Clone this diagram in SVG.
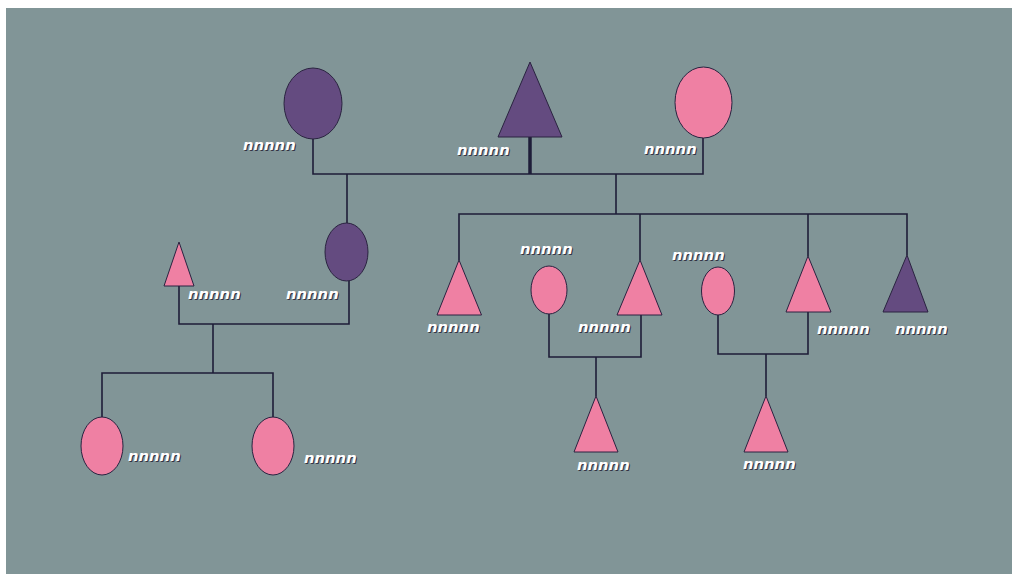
<svg xmlns="http://www.w3.org/2000/svg" width="1012" height="574" viewBox="0 0 1012 574">
<defs>
<style>
.bg{fill:#819597}
.purple{fill:#644B80;stroke:#2A2340;stroke-width:1}
.pink{fill:#EF80A3;stroke:#2A2340;stroke-width:1}
.ln{fill:none;stroke:#1E1D38;stroke-width:1.6}
.lbl{font-family:"DejaVu Sans",sans-serif;font-weight:bold;font-style:italic;font-size:14.8px;fill:#FFFFFF;}
.sh{font-family:"DejaVu Sans",sans-serif;font-weight:bold;font-style:italic;font-size:14.8px;fill:#333344;}
</style>
</defs>
<rect width="1012" height="574" fill="#FFFFFF"/>
<rect class="bg" x="6" y="8" width="1006" height="566"/>
<g id="connectors">
<polyline class="ln" points="313,139 313,174 703,174 703,138"/>
<line x1="530" y1="137" x2="530" y2="174" stroke="#1E1D38" stroke-width="3.5"/>
<line class="ln" x1="347" y1="174" x2="347" y2="223"/>
<line class="ln" x1="616" y1="174" x2="616" y2="214"/>
<polyline class="ln" points="459,260 459,214 907,214 907,255"/>
<line class="ln" x1="640" y1="214" x2="640" y2="260"/>
<line class="ln" x1="808" y1="214" x2="808" y2="256"/>
<polyline class="ln" points="179,286 179,324 349,324 349,281"/>
<line class="ln" x1="213" y1="324" x2="213" y2="373"/>
<polyline class="ln" points="102,417 102,373 273,373 273,417"/>
<polyline class="ln" points="549,314 549,357 641,357 641,315"/>
<line class="ln" x1="596" y1="357" x2="596" y2="396"/>
<polyline class="ln" points="718,315 718,354 808,354 808,312"/>
<line class="ln" x1="766" y1="354" x2="766" y2="396"/>
</g>
<g id="n1"><ellipse class="purple" cx="313" cy="103.5" rx="29" ry="35.5"/><text class="sh" x="244" y="151">nnnnn</text><text class="lbl" x="243" y="150">nnnnn</text></g>
<g id="n2"><polygon class="purple" points="530,62 562,137 498,137"/><text class="sh" x="458" y="156">nnnnn</text><text class="lbl" x="457" y="155">nnnnn</text></g>
<g id="n3"><ellipse class="pink" cx="703.5" cy="102.5" rx="28.5" ry="35.5"/><text class="sh" x="645" y="155">nnnnn</text><text class="lbl" x="644" y="154">nnnnn</text></g>
<g id="n4"><ellipse class="purple" cx="346.5" cy="252" rx="21.5" ry="29"/><text class="sh" x="287" y="300">nnnnn</text><text class="lbl" x="286" y="299">nnnnn</text></g>
<g id="n5"><polygon class="pink" points="179,242 194,286 164,286"/><text class="sh" x="189" y="300">nnnnn</text><text class="lbl" x="188" y="299">nnnnn</text></g>
<g id="n6"><ellipse class="pink" cx="102" cy="446" rx="21" ry="29"/><text class="sh" x="129" y="462">nnnnn</text><text class="lbl" x="128" y="461">nnnnn</text></g>
<g id="n7"><ellipse class="pink" cx="273" cy="446" rx="21" ry="29"/><text class="sh" x="305" y="464">nnnnn</text><text class="lbl" x="304" y="463">nnnnn</text></g>
<g id="n8"><polygon class="pink" points="459,260 481.5,315 437,315"/><text class="sh" x="428" y="333">nnnnn</text><text class="lbl" x="427" y="332">nnnnn</text></g>
<g id="n9"><ellipse class="pink" cx="549" cy="290" rx="18" ry="24"/><text class="sh" x="521" y="255">nnnnn</text><text class="lbl" x="520" y="254">nnnnn</text></g>
<g id="n10"><polygon class="pink" points="640,260 662,315 617,315"/><text class="sh" x="579" y="333">nnnnn</text><text class="lbl" x="578" y="332">nnnnn</text></g>
<g id="n11"><polygon class="pink" points="596,396 618,452 574,452"/><text class="sh" x="578" y="471">nnnnn</text><text class="lbl" x="577" y="470">nnnnn</text></g>
<g id="n12"><ellipse class="pink" cx="718" cy="291" rx="16.5" ry="24"/><text class="sh" x="673" y="261">nnnnn</text><text class="lbl" x="672" y="260">nnnnn</text></g>
<g id="n13"><polygon class="pink" points="808,256 831,312 786,312"/><text class="sh" x="818" y="335">nnnnn</text><text class="lbl" x="817" y="334">nnnnn</text></g>
<g id="n14"><polygon class="purple" points="907,255 928,312 883,312"/><text class="sh" x="896" y="335">nnnnn</text><text class="lbl" x="895" y="334">nnnnn</text></g>
<g id="n15"><polygon class="pink" points="766,396 788,452 744,452"/><text class="sh" x="744" y="470">nnnnn</text><text class="lbl" x="743" y="469">nnnnn</text></g>
</svg>
